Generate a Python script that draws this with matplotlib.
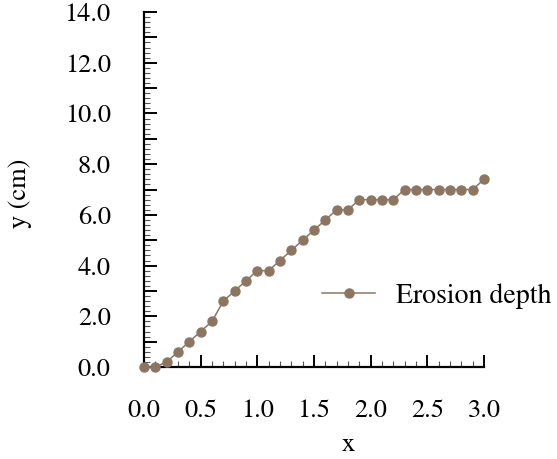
import numpy as np
import matplotlib
matplotlib.use('Agg')
import matplotlib.pyplot as plt
from matplotlib.ticker import MultipleLocator, FuncFormatter

# data
x = [0.0, 0.1, 0.2, 0.3, 0.4, 0.5, 0.6, 0.7, 0.8, 0.9, 1.0,
     1.1, 1.2, 1.3, 1.4, 1.5, 1.6, 1.7, 1.8, 1.9, 2.0,
     2.1, 2.2, 2.3, 2.4, 2.5, 2.6, 2.7, 2.8, 2.9, 3.0]
depth = [0.0, 0.0, 0.2, 0.6, 1.0, 1.4, 1.8, 2.6, 3.0, 3.4, 3.8,
         3.8, 4.2, 4.6, 5.0, 5.4, 5.8, 6.2, 6.2, 6.6, 6.6,
         6.6, 6.6, 7.0, 7.0, 7.0, 7.0, 7.0, 7.0, 7.0, 7.4]
x_ticks = [0.0, 0.5, 1.0, 1.5, 2.0, 2.5, 3.0]

plt.rcParams['font.family'] = ['STIXGeneral', 'DejaVu Serif']
plt.rcParams['mathtext.fontset'] = 'stix'
fs = 19
col = '#8c7662'

fig = plt.figure(figsize=(5.57, 4.59), dpi=100)
ax = fig.add_axes([0.2585, 0.2004, 0.6104, 0.7734])

ax.plot(x, depth, color=col, lw=1.1, marker='o', ms=6.5,
        mec=col, mfc=col, clip_on=False, zorder=5, label='Erosion depth')

ax.set_xlim(0, 3.0)
ax.set_ylim(0, 14)
ax.spines['top'].set_visible(False)
ax.spines['right'].set_visible(False)
for s in ['left', 'bottom']:
    ax.spines[s].set_linewidth(1.6)
    ax.spines[s].set_color('black')

ax.set_xticks(x_ticks)
ax.xaxis.set_minor_locator(MultipleLocator(0.1))
ax.yaxis.set_major_locator(MultipleLocator(1.0))
ax.yaxis.set_minor_locator(MultipleLocator(0.2))
ax.yaxis.set_major_formatter(FuncFormatter(lambda v, p: '%.1f' % v if int(round(v)) % 2 == 0 else ''))
ax.xaxis.set_major_formatter(FuncFormatter(lambda v, p: '%.1f' % v))

ax.tick_params(which='major', direction='in', length=9, width=1.4, labelsize=fs)
ax.tick_params(which='minor', direction='in', length=4, width=0.8, color='#555555')
ax.tick_params(axis='x', which='major', pad=23)
ax.tick_params(axis='y', which='major', pad=24)

ax.set_xlabel('x', fontsize=fs)
ax.set_ylabel('y (cm)', fontsize=fs)
ax.xaxis.set_label_coords(0.6, -0.185)
ax.yaxis.set_label_coords(-0.33, 0.49)

ax.legend(frameon=False, fontsize=20, loc='center left', bbox_to_anchor=(0.524, 0.2),
          borderpad=0, borderaxespad=0, handlelength=1.9, handletextpad=0.75)

fig.savefig('out.png', dpi=100)
